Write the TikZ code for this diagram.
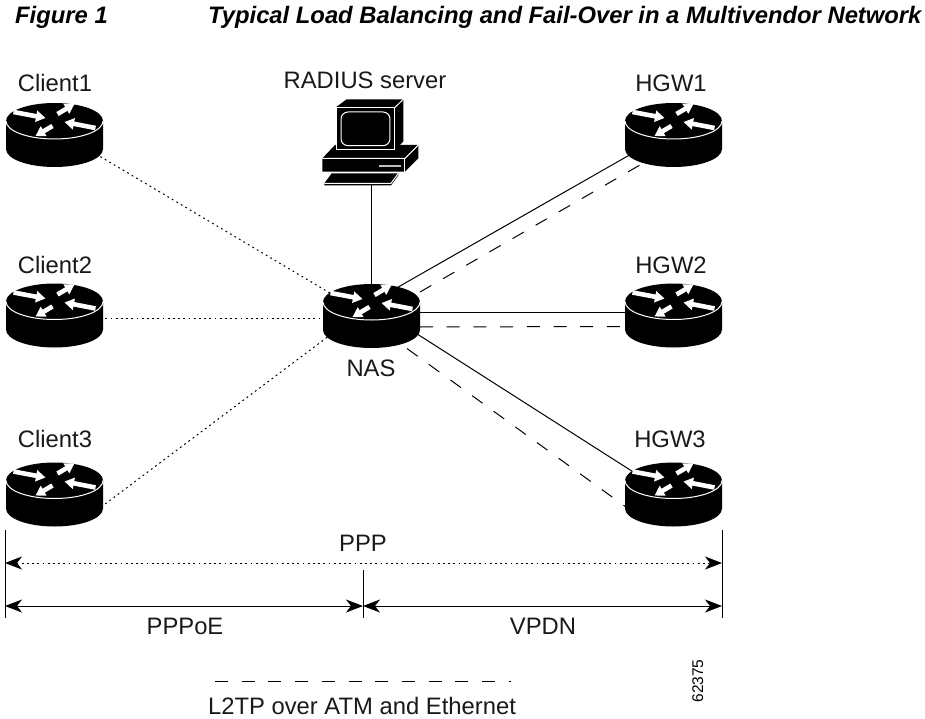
\documentclass[tikz,border=0pt]{standalone}
\usepackage{fontspec}
\setmainfont{Liberation Sans}
\usetikzlibrary{arrows.meta,calc}
\tikzset{
  x=1pt,y=-1pt,
  wire/.style={line width=1pt,black},
  dashwire/.style={line width=1pt,black,dash pattern=on 13pt off 13.7pt},
  dotwire/.style={line width=1pt,black,dash pattern=on 1.8pt off 3.4pt},
  dimtip/.style={{Stealth[length=17pt,width=13pt,inset=5pt]}-{Stealth[length=17pt,width=13pt,inset=5pt]}},
  lab/.style={anchor=base,inner sep=0pt,font=\fontsize{23.8}{28}\selectfont,text=black!90},
  titletext/.style={anchor=base west,inner sep=0pt,font=\fontsize{23.8}{28}\selectfont\bfseries\itshape},
  anchorbox/.style={inner sep=0pt,minimum width=97pt,minimum height=65pt},
  whitearrow/.style={white,line width=4.6pt,-{Triangle[width=11pt,length=9.5pt]}},
  routericon/.pic={
    \fill[black] (-48.5,-14) .. controls (-48.5,-24) and (-26.8,-32) .. (0,-32)
      .. controls (26.8,-32) and (48.5,-24) .. (48.5,-14) -- (48.5,14)
      .. controls (48.5,24) and (26.8,32) .. (0,32)
      .. controls (-26.8,32) and (-48.5,24) .. (-48.5,14) -- cycle;
    \draw[white,line width=1pt] (-48.5,-14) .. controls (-48.5,-4) and (-26.8,4) .. (0,4)
      .. controls (26.8,4) and (48.5,-4) .. (48.5,-14);
    \draw[whitearrow] (-41,-23) -- (-9,-17);
    \draw[whitearrow] (3,-21) -- (20,-31);
    \draw[whitearrow] (41,-7) -- (10,-13);
    \draw[whitearrow] (-2,-9) -- (-19,1);
  },
}
\begin{document}
\begin{tikzpicture}
\useasboundingbox (0,0) rectangle (925,719);
% titles
\node[titletext] (figlab) at (15,24) {Figure 1};
\node[titletext] (figtitle) at (208,24) {Typical Load Balancing and Fail-Over in a Multivendor Network};
% anchors
\node[anchorbox] (c1) at (54.5,135) {};
\node[anchorbox] (c2) at (54.5,315.5) {};
\node[anchorbox] (c3) at (54.5,494.5) {};
\node[anchorbox] (h1) at (673.5,135) {};
\node[anchorbox] (h2) at (673.5,315.5) {};
\node[anchorbox] (h3) at (673.5,494.5) {};
\node[anchorbox] (nas) at (371.5,316) {};
\node[inner sep=0pt,minimum width=96pt,minimum height=90pt] (pc) at (369,137) {};
% connectors
\draw[dotwire] ($(c1.center)+(28,11)$) -- ($(nas.center)+(-40,-22)$);
\draw[dotwire] ($(c2.center)+(30,2.5)$) -- ($(nas.center)+(-40,2)$);
\draw[dotwire] ($(c3.center)+(30,25)$) -- ($(nas.center)+(-40,18)$);
\draw[wire] (pc.south -| nas.center) -- (nas.center);
\draw[wire] ($(nas.center)+(18,-24)$) -- ($(h1.center)+(-37,16)$);
\draw[dashwire] ($(nas.center)+(48.5,-24)$) -- ($(h1.center)+(-33.5,30)$);
\draw[wire] ($(nas.center)+(30,-4)$) -- ($(h2.center)+(-30,-3.5)$);
\draw[dashwire] ($(nas.center)+(48.5,11)$) -- ($(h2.center)+(-53.5,11)$);
\draw[wire] ($(nas.center)+(30,8)$) -- ($(h3.center)+(-30,-16)$);
\draw[dashwire] ($(nas.center)+(14,17)$) -- ($(h3.center)+(-33,23)$);
% icons
\foreach \n in {c1,c2,c3,h1,h2,h3,nas} { \pic at (\n.center) {routericon}; }
% computer
\begin{scope}[shift={(290,90)},x=0.3333pt,y=-0.3333pt]
  \fill[black] (97,205) -- (135,165) -- (385,165) -- (385,205) -- (345,245) -- (97,245) -- cycle;
  \fill[black] (140,50) -- (170,28) -- (340,28) -- (340,155) -- (315,180) -- (140,180) -- cycle;
  \draw[white,line width=1pt] (140,180) -- (140,52) -- (315,52) -- (315,180) -- (140,180);
  \draw[white,line width=1pt] (315,52) -- (340,28);
  \draw[white,line width=1pt,rounded corners=7pt] (153,66) rectangle (300,167);
  \draw[white,line width=1pt] (97,205) -- (345,205) -- (385,165);
  \draw[white,line width=1pt] (345,205) -- (345,245);
  \fill[black!25] (268,226) rectangle (332,232);
  \fill[black] (103,280) -- (125,250) -- (325,250) -- (325,256) -- (303,286) -- (103,286) -- cycle;
  \draw[white,line width=1pt] (103,280) -- (303,280) -- (325,250);
\end{scope}
% dimension lines
\coordinate (dl) at (5,606);
\coordinate (dm) at (363,606);
\coordinate (dr) at (722,606);
\coordinate (pl) at (5,563);
\coordinate (pr) at (722,563);
\coordinate (tl) at (5,530);
\coordinate (bl) at (5,618);
\coordinate (tr) at (722,530);
\coordinate (br) at (722,618);
\coordinate (tm) at (363,570);
\coordinate (bm) at (363,618);
\draw[wire] (tl) -- (bl);
\draw[wire] (tr) -- (br);
\draw[wire] (tm) -- (bm);
\draw[wire,dimtip] (dl) -- (dm);
\draw[wire,dimtip] (dm) -- (dr);
\draw[dotwire,dimtip] (pl) -- (pr);
% legend
\coordinate (kl) at (215,681);
\coordinate (kr) at (511,681);
\draw[dashwire] (kl) -- (kr);
% labels
\node[lab] (t1) at (55,92) {Client1};
\node[lab] (t2) at (55,273) {Client2};
\node[lab] (t3) at (55,447) {Client3};
\node[lab] (t4) at (365,89) {RADIUS server};
\node[lab] (t5) at (671,92) {HGW1};
\node[lab] (t6) at (671,273) {HGW2};
\node[lab] (t7) at (670,447) {HGW3};
\node[lab] (t8) at (371,376) {NAS};
\node[lab] (t9) at (363,551) {PPP};
\node[lab] (t10) at (185,634) {PPPoE};
\node[lab] (t11) at (543,634) {VPDN};
\node[lab] (t12) at (362,714) {L2TP over ATM and Ethernet};
\node[inner sep=0pt,anchor=base,rotate=90,font=\fontsize{15.5}{18}\selectfont] (t13) at (703,681) {62375};
\end{tikzpicture}
\end{document}
